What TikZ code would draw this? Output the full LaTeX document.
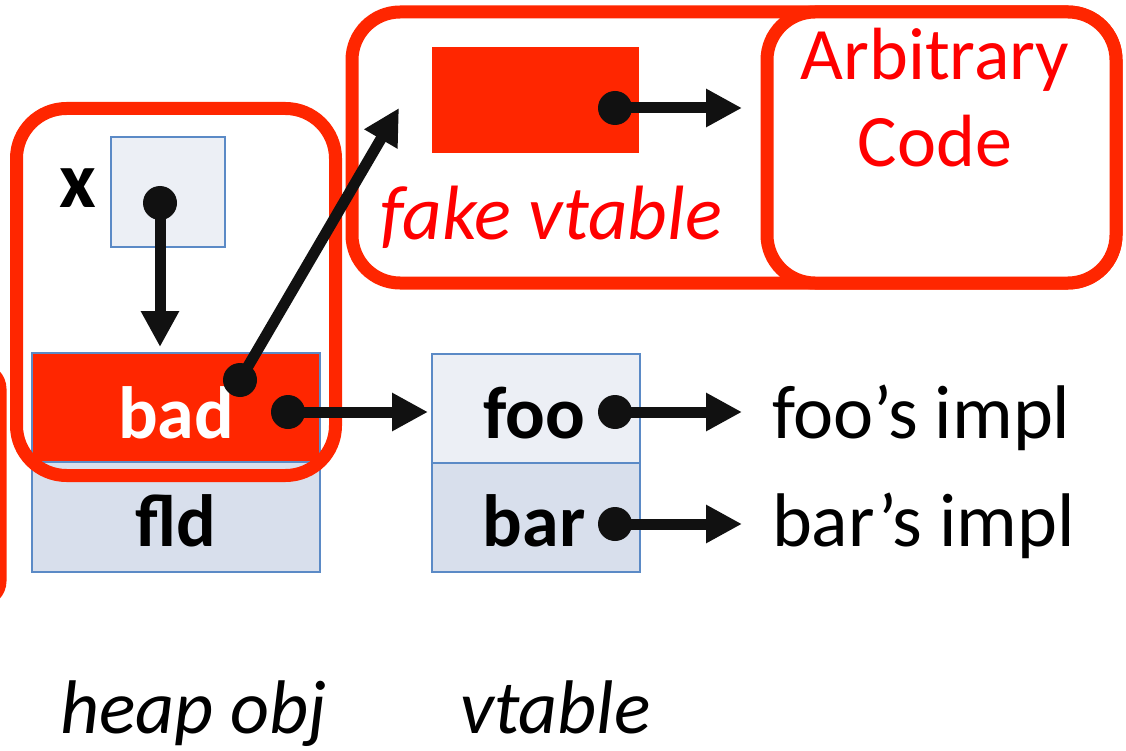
\documentclass[tikz,border=0pt]{standalone}
\usepackage{fontspec}
\setmainfont{Carlito}
\usetikzlibrary{arrows.meta}
\definecolor{hred}{HTML}{FF2600}
\definecolor{tred}{HTML}{FF0000}
\definecolor{cellA}{HTML}{ECEFF5}
\definecolor{cellB}{HTML}{D8DFEC}
\definecolor{cellborder}{HTML}{5B8AC6}
\definecolor{ink}{HTML}{111111}
\tikzset{
  every node/.style={font=\fontsize{74}{80}\selectfont, inner sep=0pt, outer sep=0pt},
  cell/.style={draw=cellborder, line width=2pt, rectangle},
  redframe/.style={draw=hred, line width=13pt, rectangle, rounded corners=48pt},
  dot/.style={circle, fill=ink, minimum size=34pt},
  arr/.style={draw=ink, line width=11pt, -{Triangle[length=36pt,width=36pt]}},
  lbl/.style={anchor=base},
}
\begin{document}
\begin{tikzpicture}[x=1pt,y=-1pt]
\useasboundingbox (0,0) rectangle (1126,751);
% heap object cells
\node[cell, fill=cellA, minimum width=114pt, minimum height=110pt] (xbox) at (168,192) {};
\node[cell, fill=hred, minimum width=288pt, minimum height=109pt] (bad) at (176,407.5) {};
\node[cell, fill=cellB, minimum width=288pt, minimum height=110pt] (fld) at (176,517) {};
% vtable cells
\node[cell, fill=cellA, minimum width=208pt, minimum height=109pt] (foo) at (536,408.5) {};
\node[cell, fill=cellB, minimum width=208pt, minimum height=109pt] (bar) at (536,517.5) {};
% labels
\node[lbl, font=\fontsize{80}{86}\selectfont\bfseries] (xl) at (78,208) {x};
\node[lbl, font=\fontsize{74}{80}\selectfont\bfseries, text=white] (badl) at (176,438) {bad};
\node[lbl, font=\fontsize{74}{80}\selectfont\bfseries] (fldl) at (176,546) {fld};
\node[lbl, font=\fontsize{74}{80}\selectfont\bfseries] (fool) at (534,438) {foo};
\node[lbl, font=\fontsize{74}{80}\selectfont\bfseries] (barl) at (534,546) {bar};
\node[anchor=base west, font=\fontsize{76}{80}\selectfont] (fooimpl) at (772,438) {foo’s impl};
\node[anchor=base west, font=\fontsize{76}{80}\selectfont] (barimpl) at (772,546) {bar’s impl};
\node[anchor=base west, font=\fontsize{76}{80}\selectfont\itshape] (heapl) at (60,733) {heap obj};
\node[anchor=base west, font=\fontsize{76}{80}\selectfont\itshape] (vtl) at (460,733) {vtable};
% red frames
\node[redframe, rounded corners=20pt, minimum width=200pt, minimum height=232pt] (offbox) at (-100,485) {};
\node[redframe, rounded corners=50pt, minimum width=319pt, minimum height=367pt] (heapframe) at (176,292) {};
\node[redframe, minimum width=764pt, minimum height=271pt] (fvbox) at (734,147.5) {};
\node[fill=hred, minimum width=207pt, minimum height=106pt] (fake) at (535.5,100) {};
\node[lbl, font=\fontsize{77}{80}\selectfont\itshape, text=tred] (fakel) at (551,240) {fake vtable};
\node[redframe, fill=white, minimum width=349pt, minimum height=271pt] (code) at (941.5,147.5) {};
\node[lbl, text=tred] (arbl) at (935,80) {Arbitrary};
\node[lbl, text=tred] (codel) at (935,167) {Code};
% dots
\node[dot] (dx) at (160,203) {};
\node[dot] (db1) at (240,380) {};
\node[dot] (db2) at (288,412) {};
\node[dot] (dfoo) at (615,412) {};
\node[dot] (dbar) at (615,524) {};
\node[dot] (dfake) at (615,108) {};
\coordinate (fvtip) at (399,108);
% arrows
\draw[arr, shorten >=6pt] (dx.center) -- (dx.center |- bad.north);
\draw[arr] (db1.center) -- (fvtip);
\draw[arr, shorten >=4pt] (db2.center) -- (db2.center -| foo.west);
\draw[arr, shorten >=30pt] (dfoo.center) -- (dfoo.center -| fooimpl.west);
\draw[arr, shorten >=30pt] (dbar.center) -- (dbar.center -| barimpl.west);
\draw[arr, shorten >=25pt] (dfake.center) -- (dfake.center -| code.west);
\end{tikzpicture}
\end{document}
